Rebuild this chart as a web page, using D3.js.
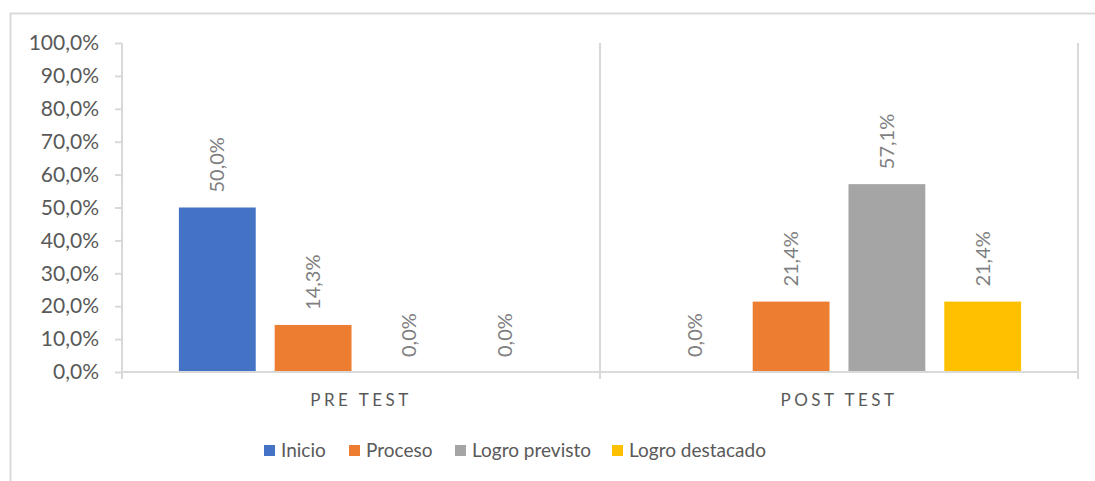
<!DOCTYPE html>
<html>
<head>
	<meta charset="utf-8">
	<title></title>
	<style type="text/css">
		body {
			margin: 0;
			background: #fff;
		}
		svg text {
			font-family: Lato, "Open Sans", sans-serif;
		}
	</style>
</head>
<body>
	<svg class="viz" width="1095" height="481"></svg>

	<script src="https://d3js.org/d3.v7.min.js"></script>
	<script type="text/javascript">

		// chart data
		var categories = ['PRE TEST', 'POST TEST'];
		var series = ['Inicio', 'Proceso', 'Logro previsto', 'Logro destacado'];
		var colors = ['#4472c4', '#ed7d31', '#a5a5a5', '#ffc000'];
		var preTest = [50.0, 14.3, 0.0, 0.0];
		var postTest = [0.0, 21.4, 57.1, 21.4];
		var yTicks = [0, 10, 20, 30, 40, 50, 60, 70, 80, 90, 100];

		var values = [preTest, postTest];
		var fmt = function(v) { return v.toFixed(1).replace('.', ',') + '%'; };

		var canvas = d3.select('.viz');
		var plotL = 122, plotR = 1078, plotT = 43, plotB = 372;
		var grey = '#d9d9d9', textCol = '#595959';

		// outer frame
		canvas.append('rect')
			.attr('x', 10.5).attr('y', 13.5)
			.attr('width', 1100).attr('height', 500)
			.attr('fill', 'none').attr('stroke', grey).attr('stroke-width', 2);

		var x0 = d3.scaleBand().domain(categories).range([plotL, plotR]);
		var x1 = d3.scaleBand().domain(series).range([0, x0.bandwidth()])
			.paddingInner(0.198).paddingOuter(0.594);
		var y = d3.scaleLinear().domain([0, 100]).range([plotB, plotT]);

		// y axis
		var yAxis = canvas.append('g').attr('transform', 'translate(' + plotL + ',0)')
			.call(d3.axisLeft(y).tickValues(yTicks).tickSize(7).tickPadding(16).tickFormat(fmt));
		yAxis.select('.domain').remove();
		yAxis.selectAll('line').attr('stroke', grey).attr('stroke-width', 2);
		yAxis.selectAll('text').attr('fill', textCol).style('font-size', '21px');

		// vertical separators (axis line + category boundaries)
		var seps = [plotL, x0('POST TEST'), plotR];
		canvas.selectAll('.sep').data(seps).enter().append('line')
			.attr('class', 'sep')
			.attr('x1', function(d) { return d; }).attr('x2', function(d) { return d; })
			.attr('y1', plotT).attr('y2', plotB + 7)
			.attr('stroke', grey).attr('stroke-width', 2);

		// bars
		var groups = canvas.selectAll('.grp').data(categories).enter().append('g')
			.attr('class', 'grp')
			.attr('transform', function(d) { return 'translate(' + x0(d) + ',0)'; });

		groups.selectAll('rect').data(function(d, i) {
			return values[i].map(function(v, j) { return { s: series[j], v: v, c: colors[j] }; });
		}).enter().append('rect')
			.attr('x', function(d) { return x1(d.s); })
			.attr('y', function(d) { return y(d.v); })
			.attr('width', x1.bandwidth())
			.attr('height', function(d) { return plotB - y(d.v); })
			.attr('fill', function(d) { return d.c; });

		// data labels
		groups.selectAll('.lbl').data(function(d, i) {
			return values[i].map(function(v, j) { return { s: series[j], v: v }; });
		}).enter().append('text')
			.attr('class', 'lbl')
			.attr('transform', function(d) {
				return 'translate(' + (x1(d.s) + x1.bandwidth() / 2 + 7) + ',' + (y(d.v) - 15) + ') rotate(-90)';
			})
			.attr('fill', '#7f7f7f')
			.style('font-size', '20px')
			.text(function(d) { return fmt(d.v); });

		// x axis line
		canvas.append('line')
			.attr('x1', plotL).attr('x2', plotR)
			.attr('y1', plotB).attr('y2', plotB)
			.attr('stroke', grey).attr('stroke-width', 2);

		// category labels
		canvas.selectAll('.cat').data(categories).enter().append('text')
			.attr('class', 'cat')
			.attr('x', function(d) { return x0(d) + x0.bandwidth() / 2; })
			.attr('y', 406)
			.attr('text-anchor', 'middle')
			.attr('fill', textCol)
			.style('font-size', '17px')
			.style('letter-spacing', '3.5px')
			.text(function(d) { return d; });

		// legend
		var legendX = [264, 349, 455, 612];
		var legend = canvas.selectAll('.leg').data(series).enter().append('g')
			.attr('class', 'leg')
			.attr('transform', function(d, i) { return 'translate(' + legendX[i] + ',445)'; });
		legend.append('rect')
			.attr('width', 11).attr('height', 11)
			.attr('fill', function(d, i) { return colors[i]; });
		legend.append('text')
			.attr('x', 17).attr('y', 12)
			.attr('fill', textCol)
			.style('font-size', '19px')
			.text(function(d) { return d; });

	</script>
</body>
</html>
